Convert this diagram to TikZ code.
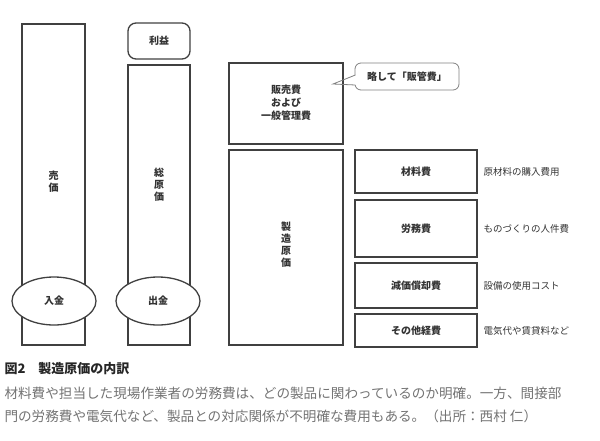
\documentclass[tikz,border=0pt]{standalone}
\usepackage{fontspec}
\setmainfont{Noto Sans CJK JP}
\usetikzlibrary{shapes.geometric}
\begin{document}
\begin{tikzpicture}[x=1pt,y=-1pt,
  bx/.style={draw=black!75,line width=1.3pt},
  lb/.style={font=\fontsize{10}{13}\selectfont\bfseries,text=black!80,align=center},
  note/.style={font=\fontsize{9.5}{12}\selectfont,text=black!80,anchor=west},
  vt/.style={font=\fontsize{10}{12}\selectfont\bfseries,text=black!80,align=center,text width=11pt}]
\useasboundingbox (0,0) rectangle (600,440);
\draw[bx] (22,24) rectangle (85,345);
\node[vt] (urika) at (53.5,182) {売\\価};
\node[bx,ellipse,fill=white,minimum width=84pt,minimum height=48pt,lb] (nyukin) at (54,301) {入金};
\draw[bx,rounded corners=8pt] (128,23) rectangle (190,59);
\node[lb] (rieki) at (159,41) {利益};
\draw[bx] (128,65) rectangle (190,345);
\node[vt] (sogenka) at (159,185) {総\\原\\価};
\node[bx,ellipse,fill=white,minimum width=84pt,minimum height=48pt,lb] (shukkin) at (158,301) {出金};
\draw[bx] (229,63) rectangle (343,144);
\node[lb] (hanbai) at (286,103) {販売費\\および\\一般管理費};
\draw[bx] (229,150) rectangle (343,345);
\node[vt] (seizo) at (286,245) {製\\造\\原\\価};
\draw[draw=black!50,line width=0.8pt,rounded corners=6pt] (355,63) rectangle (459,90);
\fill[white] (354,75) rectangle (357,85);
\draw[draw=black!50,line width=0.8pt] (355.4,75) -- (333,84) -- (355.4,85);
\node[lb] (ryaku) at (407,76.5) {略して「販管費」};
\draw[bx] (355,150) rectangle (477,193);
\node[lb] (zairyo) at (416,171.5) {材料費};
\draw[bx] (355,200) rectangle (477,257);
\node[lb] (romu) at (416,228.5) {労務費};
\draw[bx] (355,263) rectangle (477,308);
\node[lb] (genka) at (416,285.5) {減価償却費};
\draw[bx] (355,314) rectangle (477,347);
\node[lb] (sonota) at (416,330.5) {その他経費};
\node[note] (n1) at (480,171.5) {原材料の購入費用};
\node[note] (n2) at (480,228.5) {ものづくりの人件費};
\node[note] (n3) at (480,285.5) {設備の使用コスト};
\node[note] (n4) at (480,330.5) {電気代や賃貸料など};
\node[anchor=west,font=\fontsize{13}{15}\selectfont\bfseries,text=black!85] (cap) at (1,369) {図2\quad 製造原価の内訳};
\node[anchor=west,font=\fontsize{13.6}{16}\selectfont,text=black!55] (l1) at (1,393) {材料費や担当した現場作業者の労務費は、どの製品に関わっているのか明確。一方、間接部};
\node[anchor=west,font=\fontsize{13.6}{16}\selectfont,text=black!55] (l2) at (1,416) {門の労務費や電気代など、製品との対応関係が不明確な費用もある。（出所：西村 仁）};
\end{tikzpicture}
\end{document}
